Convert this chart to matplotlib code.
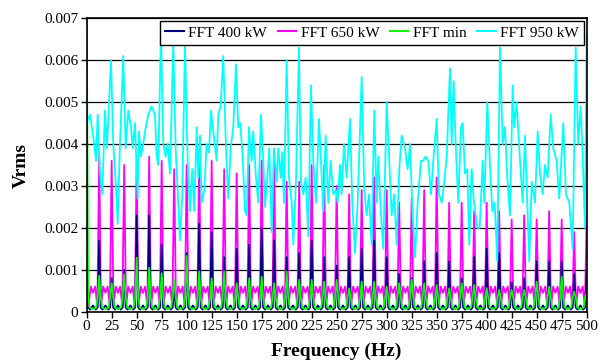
import numpy as np
import matplotlib
matplotlib.use("Agg")
import matplotlib.pyplot as plt
from matplotlib.ticker import FuncFormatter, MultipleLocator

plt.rcParams['font.family'] = ['Liberation Serif', 'DejaVu Serif']

# ---- data ----
peak_spacing = 12.5  # Hz between harmonic peaks
peak_freqs = [12.5 * (k + 1) for k in range(40)]

p400_peaks = [0.0017, 0.0008, 0.0010, 0.0023, 0.0023, 0.0016, 0.0006, 0.0014, 0.0021, 0.0019,
              0.0013, 0.0015, 0.0016, 0.0020, 0.0017, 0.0013, 0.0014, 0.0017, 0.0013, 0.0011,
              0.0013, 0.0015, 0.0017, 0.0013, 0.0009, 0.0008, 0.0012, 0.0014, 0.0012, 0.0008,
              0.0013, 0.0015, 0.0014, 0.0007, 0.0008, 0.0012, 0.0012, 0.0012, 0.0009, 0.0010]
p650_peaks = [0.0037, 0.0036, 0.0035, 0.0036, 0.0037, 0.0036, 0.0034, 0.0035, 0.0037, 0.0036,
              0.0034, 0.0033, 0.0035, 0.0036, 0.0035, 0.0031, 0.0031, 0.0035, 0.0035, 0.0030,
              0.0028, 0.0029, 0.0032, 0.0029, 0.0026, 0.0027, 0.0029, 0.0032, 0.0026, 0.0026,
              0.0024, 0.0026, 0.0024, 0.0022, 0.0023, 0.0022, 0.0024, 0.0022, 0.0019, 0.0022]
pmin_peaks = [0.00086, 0.00068, 0.00089, 0.00129, 0.00105, 0.00092, 0.00076, 0.00133, 0.00096, 0.00080,
              0.00096, 0.00068, 0.00080, 0.00084, 0.00068, 0.00096, 0.00076, 0.00076, 0.00072, 0.00076,
              0.00056, 0.00072, 0.00072, 0.00060, 0.00068, 0.00076, 0.00068, 0.00064, 0.00056, 0.00068,
              0.00064, 0.00056, 0.00052, 0.00052, 0.00052, 0.00072, 0.00060, 0.00084, 0.00048, 0.00044]

# values between two harmonic peaks (offset in Hz after a peak, level in Vrms)
p400_gap_off = [1.5, 3.5, 6.25, 9.0, 11.0]
p400_gap_val = [0.0001, 0.00005, 0.00015, 0.00005, 0.0001]
p650_gap_off = [1.8, 4.0, 6.25, 8.5, 10.7]
p650_gap_val = [0.00012, 0.0006, 0.00045, 0.0006, 0.00012]
pmin_gap_off = [1.5, 3.0, 6.25, 9.5, 11.0]
pmin_gap_val = [0.00035, 0.0001, 0.00006, 0.0001, 0.00035]

p400_start = 0.0001
p650_start = 0.0003
pmin_start = 0.0075

p950_f = [0, 3.3, 7.6, 9.3, 11, 13.3, 15.6, 18.3, 20.3, 21.6, 24.3, 26.6, 29, 31, 33.3, 36.6, 39, 41.6,
          44.3, 46, 48.3, 51, 52.3, 54.3, 56.6, 58.3, 61.6, 65, 68.3, 70, 71.6, 74.3, 76.6, 79, 81, 83.3,
          86.6, 89, 91, 93.3, 95.6, 98.3, 101, 103.3, 105.6, 107.6, 110, 111.6, 113.3, 115, 117.6, 120,
          122.3, 124.3, 128, 130, 131.6, 134, 136.6, 139.3, 141.6, 144, 146.6, 149.3, 151.6, 153.6, 156,
          158.3, 160, 162.3, 164.9, 166.6, 169.3, 171.6, 174.3, 176.6, 178.3, 180.6, 182.6, 185, 187.3,
          190, 191.6, 194, 195.6, 197.3, 200, 202.3, 205, 206.6, 209.3, 212.3, 214.3, 216.6, 219, 221.6,
          224.3, 226.6, 229.3, 232.3, 234.3, 236.6, 239, 241.6, 244, 246.6, 249.3, 251, 253.3, 255, 257.3,
          260, 263.3, 265.6, 268.3, 271, 275, 277.6, 280, 282.3, 285, 287.6, 290, 291.6, 294.3, 296.6,
          300, 302.6, 305, 307.6, 310, 312.6, 315, 318.3, 321, 323.3, 326, 328.3, 331, 334.3, 336.6, 339,
          341.6, 344.3, 346.6, 350, 352.3, 355, 357.6, 360, 363.3, 365, 367, 369, 371.6, 374.3, 376,
          378.3, 380.6, 382.6, 385, 387.3, 390.6, 393, 396, 397.6, 400.6, 403.3, 405.6, 408, 410.6, 413.3,
          416, 418.3, 420.6, 423.3, 426, 427.6, 430, 432.6, 436, 438.3, 440.6, 442.6, 445, 448.3, 451,
          453.3, 456, 458.3, 461, 464, 466.6, 470, 472.6, 476.6, 479.3, 482.6, 486, 489, 491.6, 494,
          496, 498.3, 500]
p950_v = [0.0045, 0.0047, 0.0040, 0.0036, 0.0047, 0.0033, 0.0028, 0.0048, 0.0039, 0.0046, 0.0060,
          0.0040, 0.0031, 0.0021, 0.0040, 0.0061, 0.0039, 0.0048, 0.0044, 0.0039, 0.0045, 0.0027,
          0.0043, 0.0037, 0.0040, 0.0043, 0.0047, 0.0049, 0.0047, 0.0037, 0.0035, 0.0067, 0.0040,
          0.0037, 0.0040, 0.0033, 0.0064, 0.0039, 0.0029, 0.0017, 0.0028, 0.0064, 0.0036, 0.0024,
          0.0034, 0.0024, 0.0044, 0.0032, 0.0042, 0.0026, 0.0029, 0.0040, 0.0038, 0.0048,
          0.0040, 0.0036, 0.0047, 0.0049, 0.0061, 0.0039, 0.0027, 0.0039, 0.0044, 0.0059, 0.0044,
          0.0045, 0.0037, 0.0024, 0.0023, 0.0044, 0.0036, 0.0043, 0.0032, 0.0026, 0.0047, 0.0036,
          0.0025, 0.0032, 0.0039, 0.0019, 0.0039, 0.0031, 0.0039, 0.0032, 0.0038, 0.0026, 0.0060,
          0.0032, 0.0026, 0.0016, 0.0031, 0.0063, 0.0031, 0.0028, 0.0032, 0.0018, 0.0054, 0.0036,
          0.0026, 0.0046, 0.0036, 0.0024, 0.0042, 0.0026, 0.0036, 0.0028, 0.0029, 0.0026, 0.0035,
          0.0028, 0.0040, 0.0032, 0.0046, 0.0026, 0.0014, 0.0026, 0.0056, 0.0029, 0.0023, 0.0028,
          0.0016, 0.0048, 0.0026, 0.0037, 0.0023, 0.0015, 0.0050, 0.0036, 0.0023, 0.0028, 0.0016,
          0.0034, 0.0042, 0.0039, 0.0034, 0.0040, 0.0023, 0.0013, 0.0026, 0.0036, 0.0036, 0.0037,
          0.0036, 0.0028, 0.0036, 0.0046, 0.0028, 0.0026, 0.0031, 0.0037, 0.0058, 0.0040, 0.0055,
          0.0040, 0.0026, 0.0044, 0.0045, 0.0033, 0.0034, 0.0016, 0.0034, 0.0026, 0.0020, 0.0020,
          0.0036, 0.0026, 0.0050, 0.0035, 0.0024, 0.0026, 0.0012, 0.0063, 0.0040, 0.0044, 0.0032,
          0.0023, 0.0054, 0.0044, 0.0050, 0.0039, 0.0026, 0.0042, 0.0026, 0.0012, 0.0031, 0.0026,
          0.0043, 0.0033, 0.0028, 0.0035, 0.0032, 0.0047, 0.0039, 0.0036, 0.0027, 0.0045, 0.0028,
          0.0026, 0.0015, 0.0063, 0.0040, 0.0049, 0.0037, 0.0020, 0.0066]

series_names = ['FFT 400 kW', 'FFT 650 kW', 'FFT min', 'FFT 950 kW']
colors = ['#000080', '#FF00FF', '#00FF00', '#00FFFF']
zorders = [4, 3, 5, 6]

x_ticks = list(range(0, 501, 25))
y_ticks = [0, 0.001, 0.002, 0.003, 0.004, 0.005, 0.006, 0.007]


def harmonic_trace(start, peaks, gap_off, gap_val):
    f, v = [0.0], [start]
    for k, pk in enumerate(peaks):
        base = k * peak_spacing
        for o, gv in zip(gap_off, gap_val):
            f.append(base + o)
            v.append(gv)
        f.append(peak_freqs[k])
        v.append(pk)
    return f, v


traces = [harmonic_trace(p400_start, p400_peaks, p400_gap_off, p400_gap_val),
          harmonic_trace(p650_start, p650_peaks, p650_gap_off, p650_gap_val),
          harmonic_trace(pmin_start, pmin_peaks, pmin_gap_off, pmin_gap_val),
          (p950_f, p950_v)]

fig = plt.figure(figsize=(6.16, 3.63), dpi=100)
ax = fig.add_axes([0.1407, 0.1413, 0.8117, 0.8083])

ax.set_axisbelow(True)
ax.yaxis.grid(True, color='black', linewidth=0.9)
for (f, v), name, c, z in zip(traces, series_names, colors, zorders):
    ax.plot(f, v, color=c, linewidth=1.3, label=name, clip_on=True, zorder=z)

ax.set_xlim(0, 500)
ax.set_ylim(0, 0.007)
ax.set_xticks(x_ticks)
ax.set_yticks(y_ticks)
ax.yaxis.set_major_formatter(FuncFormatter(lambda y, p: '0' if abs(y) < 1e-12 else f'{y:.3f}'))
ax.tick_params(axis='both', direction='out', length=4, width=1, labelsize=11, colors='black', pad=2)
for s in ax.spines.values():
    s.set_color('black')
    s.set_linewidth(1.2)
    s.set_zorder(7)

ax.set_xlabel('Frequency (Hz)', fontsize=14, fontweight='bold', labelpad=7)
ax.set_ylabel('Vrms', fontsize=14, fontweight='bold', labelpad=10)

leg = ax.legend(loc='upper right', ncol=4, fontsize=11, frameon=True, fancybox=False,
                edgecolor='black', framealpha=1, borderaxespad=0.15, handlelength=1.2,
                handletextpad=0.3, columnspacing=0.7, borderpad=0.35)
leg.get_frame().set_linewidth(1.0)
leg.set_zorder(8)
for line in leg.get_lines():
    line.set_linewidth(1.5)

fig.savefig('out.png', dpi=100, facecolor='white')
